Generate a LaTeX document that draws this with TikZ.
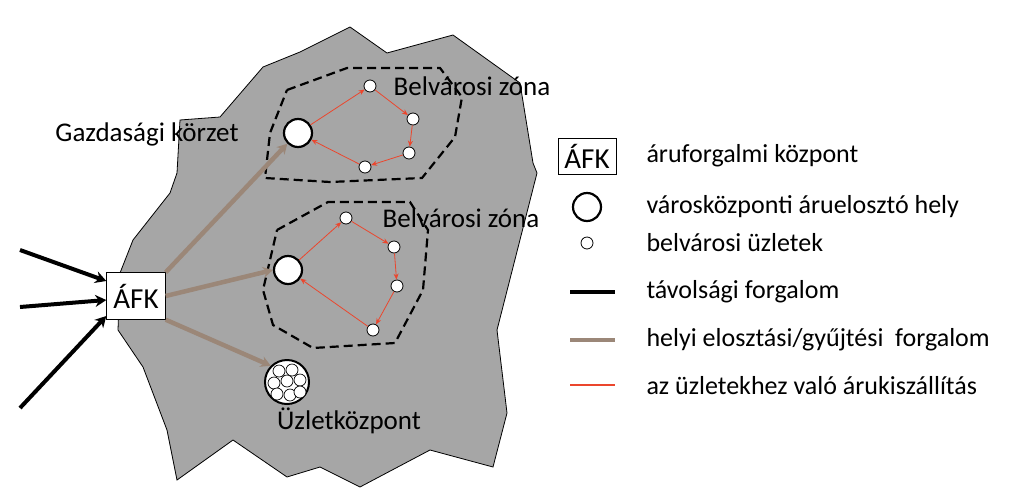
\documentclass[tikz,border=0pt]{standalone}
\usepackage{fontspec}
\setmainfont{Carlito}
\usetikzlibrary{arrows.meta}
\definecolor{redc}{RGB}{235,70,45}
\definecolor{brownc}{RGB}{155,135,120}
\begin{document}
\begin{tikzpicture}[x=1pt,y=-1pt,
 big/.style={circle,draw,line width=2.2pt,fill=white,minimum size=28pt,inner sep=0},
 small/.style={circle,draw,line width=0.8pt,fill=white,minimum size=12pt,inner sep=0},
 zone/.style={draw,line width=2.2pt,dash pattern=on 9pt off 5pt},
 redarr/.style={draw=redc,line width=0.8pt,-{Stealth[length=6pt,width=5pt]}},
 brownarr/.style={draw=brownc,line width=4.5pt,-{Stealth[length=10pt,width=11pt]}},
 blk/.style={line width=4pt,-{Stealth[length=11pt,width=12pt]}},
 lab/.style={font=\fontsize{26}{30}\selectfont,anchor=west},
 mapl/.style={font=\fontsize{27}{30}\selectfont},
 box/.style={draw,fill=white,font=\fontsize{29}{32}\selectfont,inner sep=3pt}]
\useasboundingbox (0,0) rectangle (1019,493);
\fill[gray!70!white,draw=black,line width=0.8pt] (263,67)--(300,52)--(350,27)--(387,53)--(453,35)--(520,83)--(533,163)--(537,173)--(497,330)--(507,413)--(493,467)--(430,450)--(360,487)--(320,467)--(287,477)--(233,440)--(177,480)--(167,430)--(143,367)--(118,330)--(120,273)--(133,240)--(170,193)--(177,173)--(180,120)--(220,117)--cycle;
\draw[zone] (287,90)--(347,68)--(440,68)--(462,97)--(455,137)--(422,178)--(330,182)--(265,178)--(270,133)--cycle;
\draw[zone] (277,230)--(328,202)--(410,202)--(428,230)--(423,290)--(395,343)--(313,348)--(273,325)--(263,290)--cycle;
\node[big] (t0) at (298,133) {};
\node[small] (t1) at (370,86) {};
\node[small] (t2) at (413,119) {};
\node[small] (t3) at (409,153) {};
\node[small] (t4) at (365,167) {};
\draw[redarr] (t0)--(t1); \draw[redarr] (t1)--(t2); \draw[redarr] (t2)--(t3); \draw[redarr] (t3)--(t4); \draw[redarr] (t4)--(t0);
\node[big] (b0) at (288,270) {};
\node[small] (b1) at (346,218) {};
\node[small] (b2) at (394,247) {};
\node[small] (b3) at (397,286) {};
\node[small] (b4) at (373,330) {};
\draw[redarr] (b0)--(b1); \draw[redarr] (b1)--(b2); \draw[redarr] (b2)--(b3); \draw[redarr] (b3)--(b4); \draw[redarr] (b4)--(b0);
\node[circle,draw,line width=2pt,fill=white,minimum size=44pt,inner sep=0] (sc) at (287,382) {};
\foreach \dx/\dy in {-8/-11,5/-12,-13/1,0/-1,13/-2,-10/12,3/13,13/10}
  \draw[fill=white,line width=0.7pt] (287+\dx,382+\dy) circle (6pt);
\node[mapl] (tl1) at (472,86) {Belvárosi zóna};
\node[mapl] (tl2) at (461,218) {Belvárosi zóna};
\node[mapl] (gk) at (147,134) {Gazdasági körzet};
\node[mapl] (uk) at (349,421) {Üzletközpont};
\node[box,minimum width=59pt,minimum height=47pt] (afk) at (136,296) {ÁFK};
\coordinate (s1) at (20,250); \coordinate (s2) at (20,307); \coordinate (s3) at (20,408);
\draw[blk] (s1)--(afk.west|-0,281);
\draw[blk] (s2)--(afk.west|-0,300);
\draw[blk] (s3)--(afk.west|-0,316);
\draw[brownarr] (afk.north east)--(t0.south west);
\draw[brownarr] (afk.east)--(b0.west);
\draw[brownarr] (afk.south east)--(sc.north west);
% legend
\node[box,minimum width=58pt,minimum height=36pt] (lafk) at (587,156) {ÁFK};
\node[lab] (l1) at (643,156) {áruforgalmi központ};
\node[big] (lbig) at (587,207) {};
\node[lab] (l2) at (643,207) {városközponti áruelosztó hely};
\node[small] (lsm) at (587,243) {};
\node[lab] (l3) at (643,243) {belvárosi üzletek};
\coordinate (k1) at (570,292); \coordinate (k2) at (615,292);
\draw[line width=4.5pt] (k1)--(k2);
\node[lab] (l4) at (643,292) {távolsági forgalom};
\coordinate (m1) at (570,340); \coordinate (m2) at (615,340);
\draw[line width=4.5pt,brownc] (m1)--(m2);
\node[lab] (l5) at (643,340) {helyi elosztási/gyűjtési\ \ forgalom};
\coordinate (r1) at (570,385); \coordinate (r2) at (615,385);
\draw[redc,line width=1.1pt] (r1)--(r2);
\node[lab] (l6) at (643,386) {az üzletekhez való árukiszállítás};
\end{tikzpicture}
\end{document}
